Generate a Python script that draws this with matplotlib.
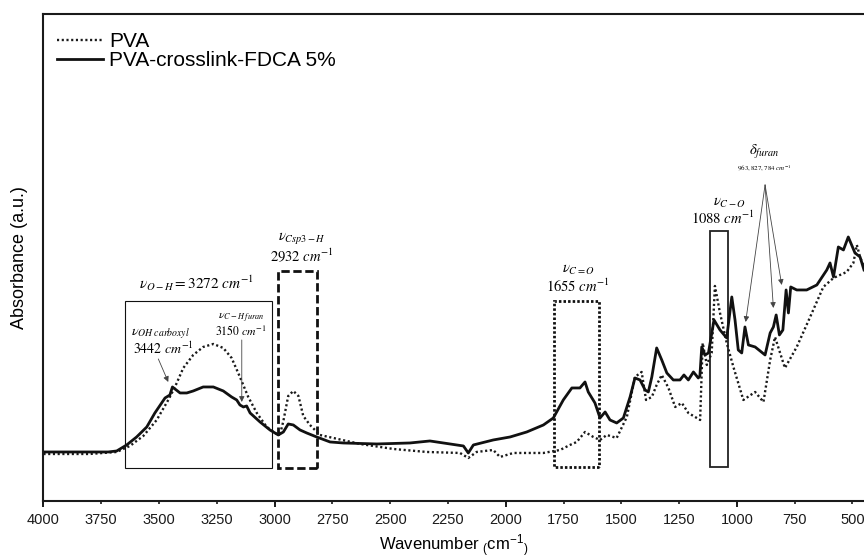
import matplotlib
matplotlib.use("Agg")
import matplotlib.pyplot as plt
from matplotlib.ticker import MultipleLocator, FixedLocator
from matplotlib.patches import Rectangle

plt.rcParams["font.family"] = ["Liberation Sans", "DejaVu Sans"]
plt.rcParams["mathtext.fontset"] = "stix"

# PVA spectrum (wavenumber in cm-1, absorbance in a.u.)
pva_wn = [4000, 3800, 3683, 3626, 3568, 3510, 3460, 3431, 3395, 3352, 3309, 3265,
          3222, 3186, 3150, 3114, 3077, 3034, 2991, 2975, 2962, 2941, 2919, 2897,
          2876, 2847, 2804, 2746, 2630, 2486, 2342, 2198, 2162, 2126, 2054, 2025,
          1967, 1837, 1765, 1722, 1693, 1657, 1621, 1592, 1563, 1520, 1476, 1441,
          1412, 1393, 1368, 1347, 1325, 1296, 1267, 1238, 1210, 1159, 1148, 1130,
          1109, 1095, 1073, 1044, 1015, 972, 921, 885, 856, 835, 813, 792, 741,
          683, 626, 582, 525, 496, 481, 467, 450]
pva_abs = [0.47, 0.47, 0.49, 0.55, 0.65, 0.81, 1.01, 1.14, 1.33, 1.46, 1.54, 1.57,
           1.53, 1.43, 1.24, 1.04, 0.88, 0.74, 0.67, 0.68, 0.80, 1.05, 1.10, 1.05,
           0.85, 0.76, 0.66, 0.63, 0.57, 0.52, 0.49, 0.48, 0.43, 0.49, 0.51, 0.44,
           0.48, 0.48, 0.51, 0.56, 0.59, 0.69, 0.64, 0.61, 0.66, 0.63, 0.84, 1.24,
           1.29, 1.01, 1.04, 1.16, 1.26, 1.13, 0.94, 0.98, 0.88, 0.81, 1.58, 1.36,
           1.48, 2.15, 1.88, 1.58, 1.34, 1.01, 1.09, 0.99, 1.41, 1.64, 1.48, 1.33, 1.54,
           1.84, 2.14, 2.23, 2.29, 2.38, 2.56, 2.44, 2.34]

# PVA-crosslink-FDCA 5% spectrum
fdca_wn = [4000, 3900, 3800, 3720, 3683, 3640, 3597, 3553, 3518, 3474, 3453, 3442,
           3409, 3380, 3352, 3309, 3265, 3222, 3186, 3164, 3150, 3135, 3121, 3106,
           3063, 3020, 2984, 2962, 2941, 2919, 2890, 2861, 2818, 2760, 2703, 2558,
           2414, 2328, 2270, 2183, 2162, 2140, 2054, 1981, 1909, 1837, 1794, 1751,
           1714, 1679, 1657, 1643, 1614, 1592, 1570, 1549, 1520, 1491, 1462, 1441,
           1419, 1397, 1383, 1368, 1347, 1325, 1303, 1275, 1246, 1229, 1210, 1188,
           1167, 1160, 1152, 1138, 1123, 1099, 1073, 1044, 1022, 1008, 994, 979,
           965, 950, 921, 878, 856, 842, 830, 816, 801, 787, 777, 767, 741, 698,
           654, 611, 597, 582, 561, 539, 518, 489, 467, 450]
fdca_abs = [0.49, 0.49, 0.49, 0.49, 0.50, 0.56, 0.64, 0.74, 0.88, 1.03, 1.06, 1.14,
            1.08, 1.08, 1.10, 1.14, 1.14, 1.10, 1.04, 1.01, 0.96, 0.94, 0.95, 0.88,
            0.79, 0.71, 0.66, 0.69, 0.77, 0.76, 0.71, 0.68, 0.64, 0.59, 0.58, 0.57,
            0.58, 0.60, 0.58, 0.55, 0.48, 0.56, 0.61, 0.64, 0.69, 0.76, 0.83, 1.01,
            1.13, 1.13, 1.19, 1.09, 0.98, 0.83, 0.89, 0.81, 0.78, 0.83, 1.04, 1.23,
            1.21, 1.11, 1.09, 1.24, 1.53, 1.41, 1.28, 1.21, 1.21, 1.26, 1.21, 1.29,
            1.23, 1.25, 1.54, 1.46, 1.48, 1.81, 1.71, 1.63, 2.04, 1.81, 1.51, 1.48,
            1.74, 1.56, 1.54, 1.46, 1.68, 1.74, 1.86, 1.66, 1.71, 2.11, 1.88, 2.14,
            2.11, 2.11, 2.16, 2.31, 2.38, 2.24, 2.54, 2.51, 2.64, 2.48, 2.44, 2.31]

tick_values = list(range(500, 4001, 250))

fig = plt.figure(figsize=(8.64, 5.58), dpi=100)
ax = fig.add_axes([0.0503, 0.1022, 0.9497, 0.8728])

ax.plot(pva_wn, pva_abs, color="#1a1a1a", lw=1.7, ls=(0, (0.9, 1.1)), label="PVA")
ax.plot(fdca_wn, fdca_abs, color="#111111", lw=2.0, label="PVA-crosslink-FDCA 5%")

ax.set_xlim(4000, 450)
ax.set_ylim(0, 4.87)

# band boxes: (low wn, bottom), width, height
ax.add_patch(Rectangle((3013, 0.33), 633, 1.67, fill=False, ec="#111111", lw=0.8))
ax.add_patch(Rectangle((2818, 0.33), 169, 1.97, fill=False, ec="#111111", lw=2.0,
                       ls=(0, (3, 1.3))))
ax.add_patch(Rectangle((1595, 0.34), 196, 1.66, fill=False, ec="#111111", lw=2.0,
                       ls=(0, (0.9, 0.75))))
ax.add_patch(Rectangle((1039, 0.34), 77, 2.36, fill=False, ec="#222222", lw=1.3))

# labels
ax.text(3337, 2.18, r"$\nu_{O-H}=3272\ cm^{-1}$", ha="center", va="center", fontsize=11)
ax.text(2880, 2.63, r"$\nu_{Csp3-H}$", ha="center", va="center", fontsize=10.5)
ax.text(2880, 2.46, r"$2932\ cm^{-1}$", ha="center", va="center", fontsize=10.5)
ax.text(1686, 2.31, r"$\nu_{C=O}$", ha="center", va="center", fontsize=10.5)
ax.text(1686, 2.15, r"$1655\ cm^{-1}$", ha="center", va="center", fontsize=10.5)
ax.text(1032, 2.98, r"$\nu_{C-O}$", ha="center", va="center", fontsize=10.5)
ax.text(1062, 2.83, r"$1088\ cm^{-1}$", ha="center", va="center", fontsize=10.5)
ax.text(3496, 1.67, r"$\nu_{OH\ carboxyl}$", ha="center", va="center", fontsize=10)
ax.text(3482, 1.52, r"$3442\ cm^{-1}$", ha="center", va="center", fontsize=10)
ax.text(3142, 1.83, r"$\nu_{C-H\ furan}$", ha="center", va="center", fontsize=8.5)
ax.text(3148, 1.69, r"$3150\ cm^{-1}$", ha="center", va="center", fontsize=8.5)
ax.text(880, 3.49, r"$\delta_{furan}$", ha="center", va="center", fontsize=10.5)
ax.text(880, 3.32, r"$963, 827, 784\ cm^{-1}$", ha="center", va="center", fontsize=5)

arrow = dict(arrowstyle="-|>", lw=0.6, color="#444444", mutation_scale=8,
             shrinkA=0, shrinkB=0)
ax.annotate("", xy=(3460, 1.19), xytext=(3503, 1.42), arrowprops=arrow)
ax.annotate("", xy=(3142, 0.99), xytext=(3142, 1.61), arrowprops=arrow)
for tip in [(962, 1.79), (842, 1.93), (806, 2.16)]:
    ax.annotate("", xy=tip, xytext=(878, 3.16), arrowprops=arrow)

# axes styling
for side in ["left", "bottom", "top"]:
    ax.spines[side].set_linewidth(1.5)
    ax.spines[side].set_color("#1a1a1a")
ax.spines["right"].set_visible(False)
ax.set_yticks([])
ax.xaxis.set_major_locator(FixedLocator(tick_values))
ax.xaxis.set_minor_locator(MultipleLocator(1000))
ax.xaxis.remove_overlapping_locs = False
ax.tick_params(axis="x", which="major", length=2.2, width=1.2, pad=6.5,
               labelsize=10.5, colors="#1a1a1a")
ax.tick_params(axis="x", which="minor", length=4.0, width=1.4, colors="#1a1a1a")

ax.set_xlabel(r"Wavenumber $\mathregular{{}_{(}cm^{-1}{}_{)}}$", fontsize=12,
              labelpad=4)
ax.set_ylabel("Absorbance (a.u.)", fontsize=13, labelpad=11)

ax.legend(loc="upper left", bbox_to_anchor=(0.0065, 0.980), borderaxespad=0,
          frameon=False, fontsize=15, handlelength=2.2, handletextpad=0.3,
          labelspacing=0.0, borderpad=0.4)

fig.savefig("out.png", dpi=100)
